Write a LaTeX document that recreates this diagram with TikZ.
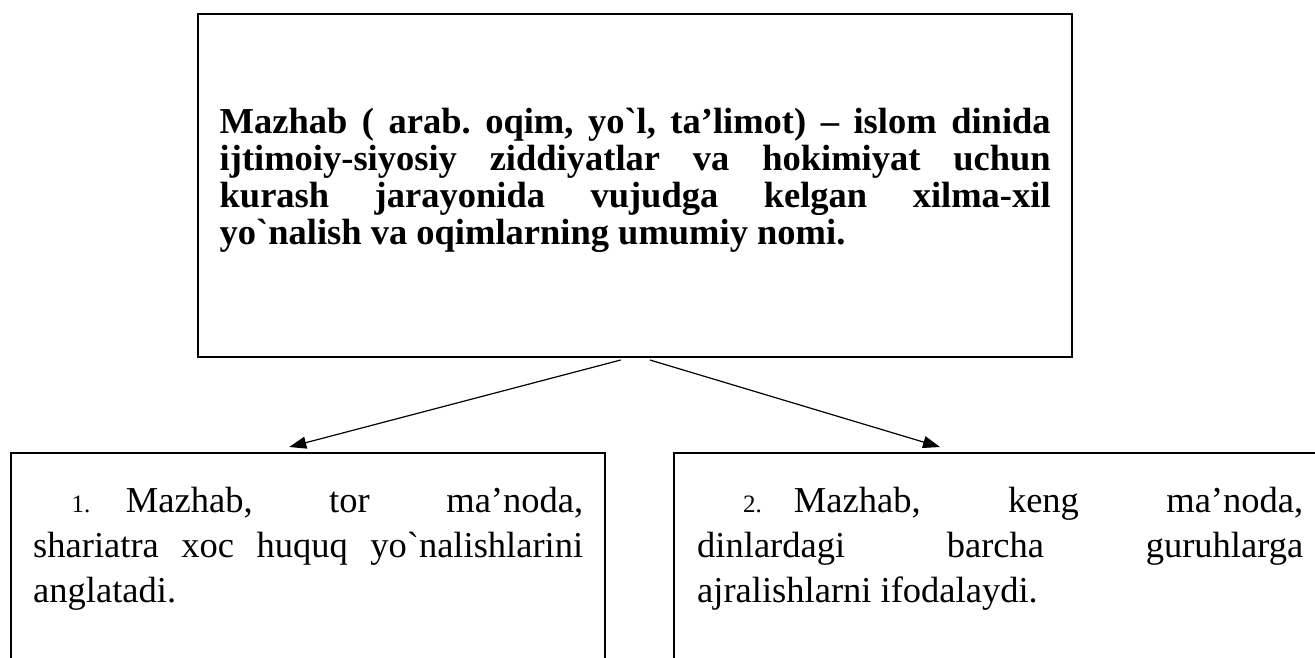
\documentclass[tikz,border=0pt]{standalone}
\usepackage{fontspec}
\setmainfont{Liberation Serif}[Ligatures=TeXOff]
\usetikzlibrary{arrows.meta,calc}
\frenchspacing
\begin{document}
\begin{tikzpicture}[x=1pt,y=-1pt,
  topbox/.style={draw=black,line width=2.6pt,inner sep=0pt,outer sep=0pt,anchor=north west},
  subbox/.style={draw=black,line width=2.2pt,inner sep=0pt,outer sep=0pt,anchor=north west},
  conn/.style={line width=1.2pt,-{Triangle[length=17pt,width=12pt]}},
  toptext/.style={anchor=base west,inner sep=0pt,text width=831pt,align=justify,
    font=\fontsize{36.5}{37.3}\selectfont\bfseries},
  subtext/.style={anchor=base west,inner sep=0pt,align=justify,
    font=\fontsize{36.5}{45}\selectfont}]
\useasboundingbox (0,0) rectangle (1315,657);
\fill[white] (0,0) rectangle (1315,657);
\clip (0,0) rectangle (1315,657);

% boxes
\node[topbox,minimum width=874pt,minimum height=343pt] (top) at (198,14) {};
\node[subbox,minimum width=594pt,minimum height=300pt] (lbox) at (11,453) {};
\node[subbox,minimum width=660pt,minimum height=300pt] (rbox) at (674,453) {};

% texts
\node[toptext] (ttext) at (219.5,133)
  {\frenchspacing\tolerance=10000 Mazhab ( arab. oqim, yo`l, ta’limot) – islom dinida\linebreak
   ijtimoiy-siyosiy ziddiyatlar va hokimiyat uchun\linebreak
   kurash jarayonida vujudga kelgan xilma-xil\linebreak
   yo`nalish va oqimlarning umumiy nomi.};

\node[subtext,text width=550pt] (ltext) at (33,512)
  {\frenchspacing\tolerance=10000 \hspace*{38.5pt}{\fontsize{25}{25}\selectfont 1.}\hspace{35.5pt}Mazhab, tor ma’noda,\linebreak
   shariatra xoc huquq yo`nalishlarini\linebreak
   anglatadi.};

\node[subtext,text width=606pt] (rtext) at (697,512)
  {\frenchspacing\tolerance=10000 \hspace*{46pt}{\fontsize{25}{25}\selectfont 2.}\hspace{32pt}Mazhab, keng ma’noda,\linebreak
   dinlardagi barcha guruhlarga\linebreak
   ajralishlarni ifodalaydi.};

% connectors
\coordinate (s1) at ($(top.south)+(-14.3,3)$);
\coordinate (s2) at ($(top.south)+(15,3)$);
\coordinate (e1) at ($(lbox.north west)+(278.3,-6)$);
\coordinate (e2) at ($(rbox.north west)+(266,-6)$);
\draw[conn] (s1) -- (e1);
\draw[conn] (s2) -- (e2);
\end{tikzpicture}
\end{document}
